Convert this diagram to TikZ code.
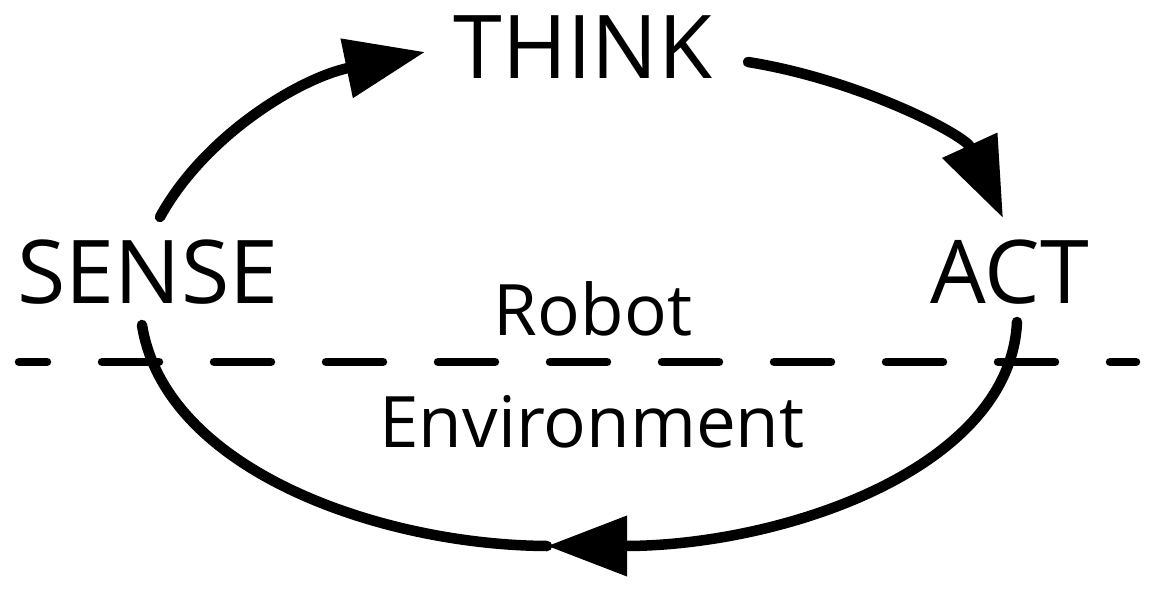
\documentclass[tikz,border=0pt]{standalone}
\usepackage{fontspec}
\setmainfont{Open Sans}
\usetikzlibrary{arrows.meta}
\tikzset{
  lbl/.style={anchor=base, inner sep=0pt, font=\fontsize{88}{90}\selectfont},
  sublbl/.style={anchor=base, inner sep=0pt, font=\fontsize{71}{74}\selectfont},
  loop/.style={line width=10.5pt, line cap=round},
  tip/.style={-{Triangle[length=80pt,width=58pt]}},
}
\begin{document}
\begin{tikzpicture}[x=1pt,y=-1pt]
\useasboundingbox (0,0) rectangle (1152,589);
\node[lbl] (think) at (583,78) {THINK};
\node[lbl] (sense) at (148,303) {SENSE};
\node[lbl] (act) at (1010,303) {ACT};
\node[sublbl] (robot) at (593,335) {Robot};
\node[sublbl] (env) at (592,447) {Environment};
% anchor coordinates
\coordinate (s1) at (160,217);
\coordinate (t1) at (425,52);
\coordinate (t2) at (748,62);
\coordinate (a1) at (1003,218);
\coordinate (a2) at (1017,322);
\coordinate (b) at (547,546);
\coordinate (s2) at (142,325);
\coordinate (dl) at (19,362);
\coordinate (dr) at (1136,362);
% dashed line
\draw[line width=8.5pt, line cap=round, dash pattern=on 57pt off 55pt, dash phase=29pt] (dl) -- (dr);
% loop
\draw[loop, tip] (s1) .. controls (205,135) and (300,78) .. (t1);
\draw[loop, tip] (t2) .. controls (860,80) and (965,135) .. (a1);
\draw[loop, tip] (a2) .. controls (1010,470) and (780,546) .. (b);
\draw[loop] (b) .. controls (380,545) and (165,470) .. (s2);
\end{tikzpicture}
\end{document}
